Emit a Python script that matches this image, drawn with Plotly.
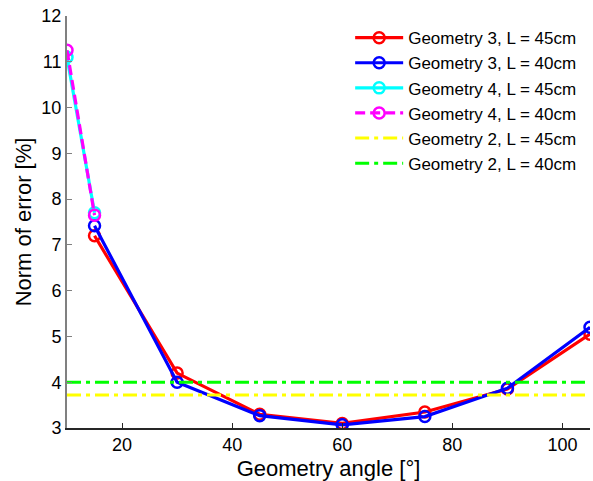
import plotly.graph_objects as go

angles_g3 = [15, 30, 45, 60, 75, 90, 105]
g3_l45 = [7.2, 4.2, 3.3, 3.1, 3.35, 3.85, 5.05]
g3_l40 = [7.42, 4.0, 3.27, 3.07, 3.25, 3.87, 5.2]
angles_g4 = [10, 15]
g4_l45 = [11.1, 7.7]
g4_l40 = [11.25, 7.65]
g2_range = [10, 105]
g2_l45 = 3.72
g2_l40 = 4.0

font = "Liberation Sans, Arial, Helvetica, sans-serif"

fig = go.Figure()
mk = dict(symbol="circle-open", size=11, line=dict(width=2.5))
fig.add_trace(go.Scatter(x=angles_g3, y=g3_l45, mode="lines+markers", name="Geometry 3, L = 45cm",
                         line=dict(color="#ff0000", width=3.2), marker=dict(color="#ff0000", **mk)))
fig.add_trace(go.Scatter(x=angles_g3, y=g3_l40, mode="lines+markers", name="Geometry 3, L = 40cm",
                         line=dict(color="#0000ff", width=3.2), marker=dict(color="#0000ff", **mk)))
fig.add_trace(go.Scatter(x=angles_g4, y=g4_l45, mode="lines+markers", name="Geometry 4, L = 45cm",
                         line=dict(color="#00ffff", width=3.2), marker=dict(color="#00ffff", **mk)))
fig.add_trace(go.Scatter(x=angles_g4, y=g4_l40, mode="lines+markers", name="Geometry 4, L = 40cm",
                         line=dict(color="#ff00ff", width=3.2, dash="10px,5px"), marker=dict(color="#ff00ff", **mk)))
fig.add_trace(go.Scatter(x=g2_range, y=[g2_l45] * 2, mode="lines", name="Geometry 2, L = 45cm",
                         line=dict(color="#ffff00", width=3, dash="14px,5px,4px,5px")))
fig.add_trace(go.Scatter(x=g2_range, y=[g2_l40] * 2, mode="lines", name="Geometry 2, L = 40cm",
                         line=dict(color="#00ff00", width=3, dash="14px,5px,4px,5px")))

fig.update_layout(
    width=593, height=481,
    margin=dict(l=67, r=3, t=16, b=53),
    paper_bgcolor="white", plot_bgcolor="white",
    font=dict(family=font, size=18, color="black"),
    showlegend=True,
    legend=dict(x=0.985, y=0.99, xanchor="right", yanchor="top", bgcolor="rgba(0,0,0,0)",
                font=dict(size=17), tracegroupgap=0, itemwidth=48),
    xaxis=dict(range=[10, 105], tickvals=[20, 40, 60, 80, 100], ticks="inside", ticklen=5,
               tickcolor="#262626", showline=True, linecolor="#262626", linewidth=1.5,
               showgrid=False, zeroline=False, automargin=False,
               title=dict(text="Geometry angle [°]", standoff=8)),
    yaxis=dict(range=[3, 12], tickvals=list(range(3, 13)), ticks="inside", ticklen=5,
               tickcolor="#808080", showline=True, linecolor="#808080", linewidth=2,
               showgrid=False, zeroline=False, automargin=False,
               title=dict(text="Norm of error [%]", standoff=4)),
)
fig.write_html("out.html")
